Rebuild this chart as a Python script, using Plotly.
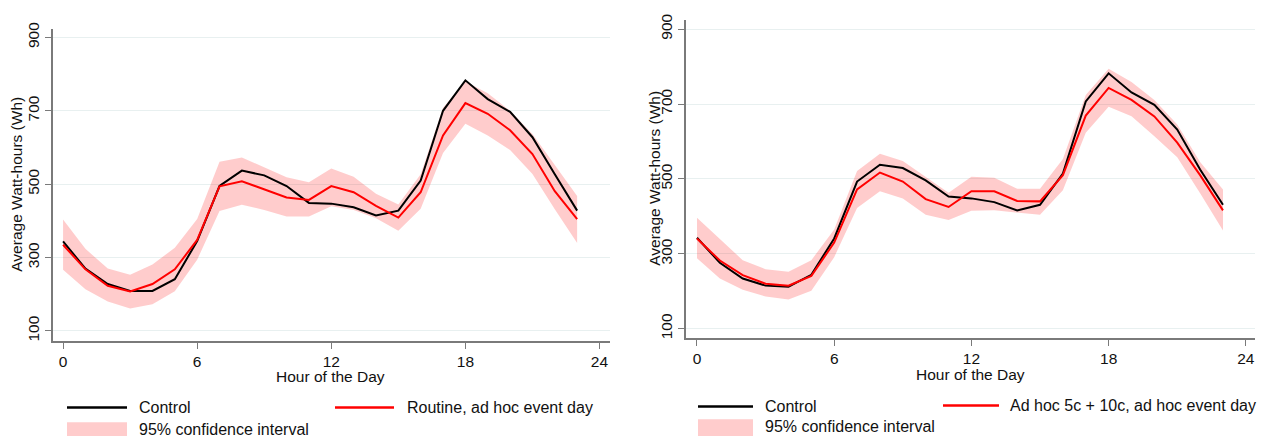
import plotly.graph_objects as go

W, H = 1266, 437

hours = list(range(24))

# Left panel: Control vs Routine, ad hoc event day
ctrl_L = [344, 270, 228, 209, 209, 241, 345, 495, 537, 524, 495, 449, 447, 437, 415, 428, 510, 700, 783, 732, 697, 628, 527, 428]
trt_L = [335, 268, 223, 208, 228, 268, 348, 494, 508, 487, 464, 457, 495, 478, 441, 409, 478, 633, 721, 692, 647, 582, 481, 405]
upper_L = [404, 324, 270, 253, 281, 327, 405, 561, 573, 545, 519, 505, 543, 520, 474, 445, 527, 708, 780, 748, 700, 637, 553, 468]
lower_L = [267, 214, 180, 161, 173, 208, 294, 427, 444, 430, 412, 412, 440, 430, 407, 373, 433, 585, 665, 633, 593, 528, 432, 340]

# Right panel: Control vs Ad hoc 5c + 10c, ad hoc event day
ctrl_R = [343, 276, 234, 215, 212, 244, 341, 493, 538, 529, 496, 453, 448, 438, 416, 431, 514, 707, 782, 731, 698, 632, 525, 431]
trt_R = [341, 282, 243, 220, 215, 241, 330, 472, 517, 493, 446, 425, 467, 467, 441, 440, 510, 669, 743, 711, 667, 597, 510, 416]
upper_R = [396, 339, 283, 259, 252, 283, 365, 521, 567, 548, 505, 463, 506, 503, 474, 474, 553, 724, 794, 759, 711, 645, 545, 472]
lower_R = [288, 234, 204, 186, 178, 201, 291, 422, 467, 448, 404, 390, 415, 416, 410, 404, 470, 623, 693, 667, 614, 558, 462, 362]

x_ticks = [0, 6, 12, 18, 24]
y_ticks = [100, 300, 500, 700, 900]

x_title = "Hour of the Day"
y_title = "Average Watt-hours (Wh)"
lab_ctrl = "Control"
lab_ci = "95% confidence interval"
lab_trt_L = "Routine, ad hoc event day"
lab_trt_R = "Ad hoc 5c + 10c, ad hoc event day"

FONT = "Liberation Sans, Arial, sans-serif"
CI_FILL = "rgba(255,0,0,0.2)"
GRID = "#e8f0f0"
AXIS = "#7a7a7a"


def px(x):
    return x / W


def py(y):
    return 1 - y / H


fig = go.Figure()


def add_panel(xa, ya, ctrl, trt, up, lo):
    fig.add_trace(go.Scatter(
        x=hours + hours[::-1], y=up + lo[::-1], fill="toself",
        fillcolor=CI_FILL, line=dict(width=0), mode="lines",
        hoverinfo="skip", showlegend=False, xaxis=xa, yaxis=ya))
    fig.add_trace(go.Scatter(
        x=hours, y=ctrl, mode="lines", line=dict(color="black", width=2),
        showlegend=False, xaxis=xa, yaxis=ya))
    fig.add_trace(go.Scatter(
        x=hours, y=trt, mode="lines", line=dict(color="#ff0000", width=2),
        showlegend=False, xaxis=xa, yaxis=ya))


add_panel("x", "y", ctrl_L, trt_L, upper_L, lower_L)
add_panel("x2", "y2", ctrl_R, trt_R, upper_R, lower_R)

tickfont = dict(family=FONT, size=15.5, color="#111")

xcommon = dict(
    tickvals=x_ticks, ticks="outside", ticklen=6, tickwidth=1.2, tickcolor=AXIS,
    showline=True, linecolor=AXIS, linewidth=1.5, showgrid=False, zeroline=False,
    tickfont=tickfont, fixedrange=True,
)
ycommon = dict(
    tickvals=y_ticks, ticks="outside", ticklen=6, tickwidth=1.2, tickcolor=AXIS,
    showline=True, linecolor=AXIS, linewidth=1.5, showgrid=True, gridcolor=GRID,
    gridwidth=1, zeroline=False, tickangle=-90, tickfont=tickfont, fixedrange=True,
)

fig.update_layout(
    width=W, height=H,
    margin=dict(l=0, r=0, t=0, b=0),
    paper_bgcolor="white", plot_bgcolor="white",
    font=dict(family=FONT, color="#111"),
    showlegend=False,
    xaxis=dict(xcommon, domain=[px(53), px(610)], range=[-0.45, 24.47], anchor="y"),
    yaxis=dict(ycommon, domain=[py(340), py(22)], range=[73.3, 924], anchor="x"),
    xaxis2=dict(xcommon, domain=[px(686), px(1255)], range=[-0.48, 24.4], anchor="y2"),
    yaxis2=dict(ycommon, domain=[py(337), py(13)], range=[75.6, 925], anchor="x2"),
)

ann = []
# axis titles
ann.append(dict(text=x_title, x=px(330), y=py(376), xref="paper", yref="paper",
                xanchor="center", yanchor="middle", showarrow=False,
                font=dict(family=FONT, size=15.5, color="#111")))
ann.append(dict(text=x_title, x=px(970), y=py(374), xref="paper", yref="paper",
                xanchor="center", yanchor="middle", showarrow=False,
                font=dict(family=FONT, size=15.5, color="#111")))
ann.append(dict(text=y_title, x=px(17), y=py(181), xref="paper", yref="paper",
                xanchor="center", yanchor="middle", textangle=-90, showarrow=False,
                font=dict(family=FONT, size=15.5, color="#111")))
ann.append(dict(text=y_title, x=px(655), y=py(175), xref="paper", yref="paper",
                xanchor="center", yanchor="middle", textangle=-90, showarrow=False,
                font=dict(family=FONT, size=15.5, color="#111")))

shapes = []


def legend(x0, x1, ytop, ybox0, xr0, xr1, yr, xtxt, xtxt_r, trt_label):
    shapes.append(dict(type="line", xref="paper", yref="paper",
                       x0=px(x0), x1=px(x1), y0=py(ytop), y1=py(ytop),
                       line=dict(color="black", width=2.5)))
    shapes.append(dict(type="rect", xref="paper", yref="paper",
                       x0=px(x0), x1=px(x1), y0=py(437), y1=py(ybox0),
                       fillcolor=CI_FILL, line=dict(width=0)))
    shapes.append(dict(type="line", xref="paper", yref="paper",
                       x0=px(xr0), x1=px(xr1), y0=py(yr), y1=py(yr),
                       line=dict(color="#ff0000", width=2.5)))
    for text, x, y in [(lab_ctrl, xtxt, ytop), (lab_ci, xtxt, ybox0 + 7),
                       (trt_label, xtxt_r, yr)]:
        ann.append(dict(text=text, x=px(x), y=py(y), xref="paper", yref="paper",
                        xanchor="left", yanchor="middle", showarrow=False,
                        font=dict(family=FONT, size=16, color="#111")))


legend(67, 127, 408, 423, 335, 394, 408, 137, 405, lab_trt_L)
legend(698, 753, 407, 420, 943, 999, 406, 763, 1008, lab_trt_R)

fig.update_layout(annotations=ann, shapes=shapes)

fig.write_html("out.html")
